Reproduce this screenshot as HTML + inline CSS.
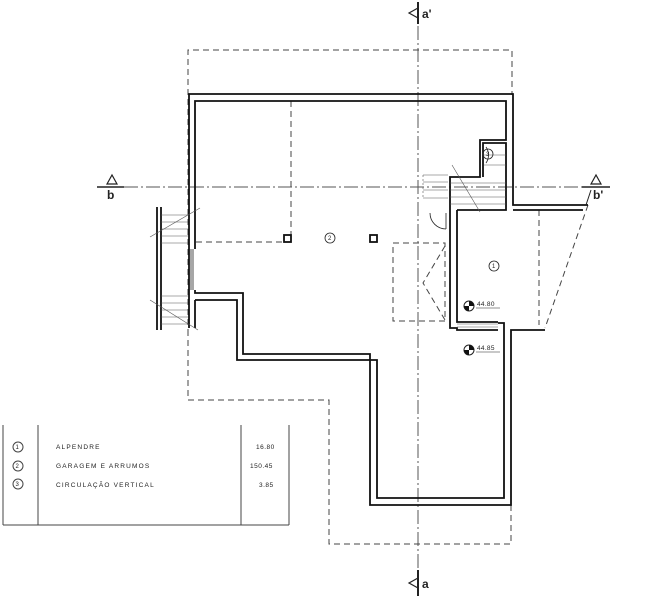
<!DOCTYPE html>
<html><head><meta charset="utf-8"><style>
html,body{margin:0;padding:0;background:#fff;width:652px;height:600px;overflow:hidden}
svg{display:block}
text{font-family:"Liberation Sans",sans-serif;fill:#222}
</style></head><body>
<svg width="652" height="600" viewBox="0 0 652 600" xmlns="http://www.w3.org/2000/svg">
<g fill="none" stroke="#222" stroke-width="1">
<!-- section lines -->
<line x1="418" y1="4" x2="418" y2="592" stroke-dasharray="14,3,2,3" stroke="#555"/>
<line x1="124" y1="187" x2="585" y2="187" stroke-dasharray="14,3,2,3" stroke="#555"/>
<!-- dashed outlines -->
<g stroke-dasharray="6,4" stroke="#444">
<polyline points="188,335 188,50 512,50 512,95"/>
<polyline points="188,330 188,400 329,400 329,544 511,544 511,505"/>
<line x1="291" y1="101" x2="291" y2="242"/>
<line x1="196" y1="242" x2="290" y2="242"/>
<rect x="393" y="243" width="52" height="78"/>
<polyline points="445,246 423,283 445,320"/>
<line x1="539" y1="210" x2="539" y2="325"/>
<polyline points="588,205 545,328"/>
</g>
<!-- walls -->
<g stroke-width="1.8" stroke="#111">
<polyline points="189,328 189,94 513,94 513,205 588,205"/>
<polyline points="195,249 195,101 506,101 506,140 480,140 480,177 450,177 450,328 457,328 457,330 498,330"/>
<polyline points="195,290 195,293 243,293 243,354 370,354 370,505 511,505 511,330 545,330"/>
<polyline points="195,300 237,300 237,360 377,360 377,498 504,498 504,323 498,323"/>
<polyline points="457,210 457,322 498,322"/>
<polyline points="483,177 483,143 506,143 506,210 457,210"/>
<line x1="513" y1="210" x2="583" y2="210"/>
<line x1="195" y1="300" x2="195" y2="328"/>
<line x1="157" y1="207" x2="157" y2="330"/>
<line x1="161" y1="207" x2="161" y2="330"/>
<rect x="284" y="235" width="7" height="7"/>
<rect x="370" y="235" width="7" height="7"/>
</g>
<!-- window left -->
<line x1="191" y1="249" x2="191" y2="290" stroke-width="0.8"/>
<line x1="193" y1="249" x2="193" y2="290" stroke-width="0.8"/>
<!-- stairs left -->
<g stroke-width="0.6" stroke="#555">
<line x1="161" y1="215" x2="188" y2="215"/><line x1="161" y1="222" x2="188" y2="222"/><line x1="161" y1="229" x2="188" y2="229"/><line x1="161" y1="236" x2="188" y2="236"/><line x1="161" y1="243" x2="188" y2="243"/>
<line x1="161" y1="296" x2="188" y2="296"/><line x1="161" y1="303" x2="188" y2="303"/><line x1="161" y1="310" x2="188" y2="310"/><line x1="161" y1="317" x2="188" y2="317"/><line x1="161" y1="324" x2="188" y2="324"/>
<line x1="150" y1="237" x2="200" y2="208"/><line x1="150" y1="300" x2="198" y2="330"/>
<!-- circulation stairs -->
<line x1="450" y1="183" x2="506" y2="183"/><line x1="450" y1="190" x2="506" y2="190"/><line x1="450" y1="197" x2="506" y2="197"/><line x1="450" y1="204" x2="506" y2="204"/>
<line x1="484" y1="155" x2="506" y2="155"/><line x1="484" y1="165" x2="506" y2="165"/>
<line x1="452" y1="165" x2="480" y2="212"/>
<line x1="423" y1="175" x2="448" y2="175"/><line x1="423" y1="182" x2="448" y2="182"/><line x1="423" y1="190" x2="448" y2="190"/><line x1="423" y1="198" x2="448" y2="198"/>
<line x1="423" y1="175" x2="423" y2="198" stroke-dasharray="2,2"/>
<line x1="457" y1="324" x2="498" y2="324"/><line x1="457" y1="327" x2="498" y2="327"/>
</g>
<!-- door arc -->
<path d="M430,213 A16,16 0 0 0 446,229" stroke-width="0.8"/>
<line x1="446" y1="213" x2="446" y2="229" stroke-width="0.8"/>
<path d="M486,147 A14,14 0 0 1 486,163" stroke-width="0.8"/>
<!-- table -->
<g stroke-width="1" stroke="#444">
<line x1="3" y1="425" x2="3" y2="525"/><line x1="38" y1="425" x2="38" y2="525"/>
<line x1="241" y1="425" x2="241" y2="525"/><line x1="289" y1="425" x2="289" y2="525"/>
<line x1="3" y1="525" x2="289" y2="525"/>
<circle cx="18" cy="447" r="5"/><circle cx="18" cy="466" r="5"/><circle cx="18" cy="484" r="5"/>
</g>
<circle cx="330" cy="238" r="5" stroke-width="0.8"/>
<circle cx="494" cy="266" r="5" stroke-width="0.8"/>
<circle cx="488" cy="154" r="5" stroke-width="0.8"/>
<!-- section markers -->
<line x1="97" y1="187" x2="124" y2="187" stroke-width="1.5"/>
<path d="M107,184 L112,175 L117,184 Z" stroke-width="1.2"/>
<line x1="582" y1="187" x2="610" y2="187" stroke-width="1.5"/>
<path d="M591,184 L596,175 L601,184 Z" stroke-width="1.2"/>
<line x1="586" y1="205" x2="591" y2="190" stroke-width="1"/>
<path d="M418,8 L409,13 L418,18" stroke-width="1.2"/>
<line x1="418" y1="2" x2="418" y2="24" stroke-width="2"/>
<path d="M418,578 L409,583 L418,588" stroke-width="1.2"/>
<line x1="418" y1="570" x2="418" y2="596" stroke-width="2"/>
<!-- level markers -->
<circle cx="469" cy="306" r="5" stroke-width="1"/>
<circle cx="469" cy="350" r="5" stroke-width="1"/>
<line x1="476" y1="308" x2="500" y2="308" stroke-width="0.5"/>
<line x1="476" y1="352" x2="500" y2="352" stroke-width="0.5"/>
</g>
<path d="M469,301 A5,5 0 0 1 474,306 L469,306 Z M469,311 A5,5 0 0 1 464,306 L469,306 Z" fill="#111"/>
<path d="M469,345 A5,5 0 0 1 474,350 L469,350 Z M469,355 A5,5 0 0 1 464,350 L469,350 Z" fill="#111"/>
<g font-size="6">
<text x="15.5" y="449">1</text><text x="15.5" y="468">2</text><text x="15.5" y="486">3</text>
<text x="328" y="240">2</text><text x="492" y="268">1</text><text x="486" y="156">3</text>
</g>
<g font-size="6.5" letter-spacing="1.2" fill="#333">
<text x="56" y="449">ALPENDRE</text>
<text x="56" y="468">GARAGEM  E  ARRUMOS</text>
<text x="56" y="487">CIRCULAÇÃO  VERTICAL</text>
<text x="256" y="449" letter-spacing="0.5">16.80</text>
<text x="250" y="468" letter-spacing="0.5">150.45</text>
<text x="259" y="487" letter-spacing="0.5">3.85</text>
<text x="477" y="306" letter-spacing="0.3">44.80</text>
<text x="477" y="350" letter-spacing="0.3">44.85</text>
</g>
<g font-weight="bold" font-size="12">
<text x="422" y="18">a'</text>
<text x="422" y="588">a</text>
<text x="107" y="199">b</text>
<text x="593" y="199">b'</text>
</g>
</svg>
</body></html>
